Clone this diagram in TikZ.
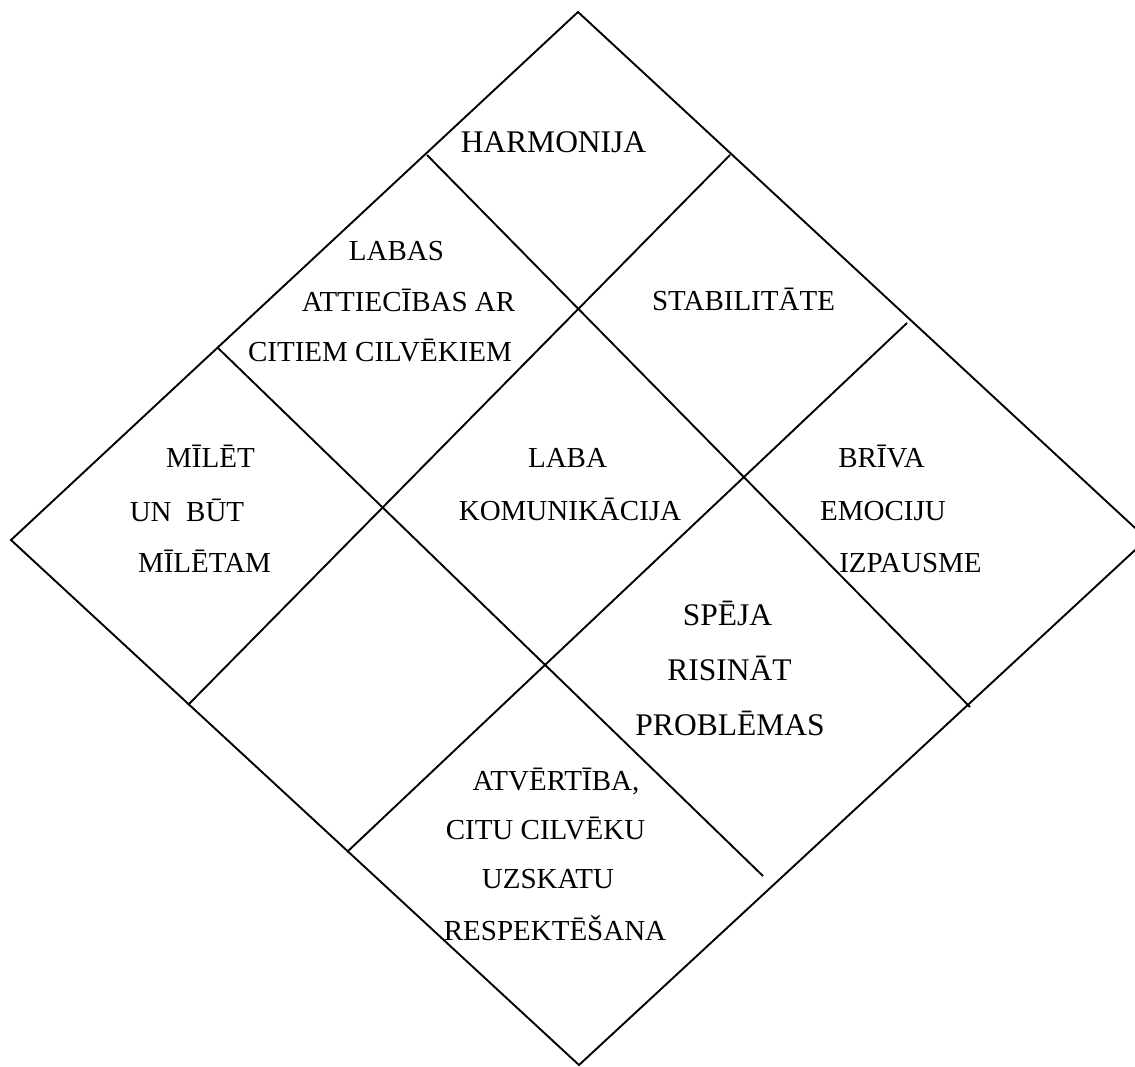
\documentclass[tikz,border=0pt]{standalone}
\usepackage{fontspec}
\setmainfont{Liberation Serif}
\begin{document}
\begin{tikzpicture}[x=1pt,y=-1pt,
  edge/.style={line width=1.9pt, line join=miter},
  lbl/.style={font=\fontsize{29}{35}\selectfont, anchor=base, inner sep=0pt},
  lblbig/.style={lbl, font=\fontsize{31.5}{38}\selectfont}]
\useasboundingbox (0,0) rectangle (1135,1066);
\clip (0,0) rectangle (1135,1066);
% outer square standing on its corner
\coordinate (top) at (578,12);
\coordinate (left) at (11,540);
\coordinate (bottom) at (579,1065);
\coordinate (right) at (1147,539);
\draw[edge] (top) -- (right) -- (bottom) -- (left) -- cycle;
% inner dividing lines
\coordinate (a1) at (427,155);  \coordinate (a2) at (970,707);
\coordinate (b1) at (730,155);  \coordinate (b2) at (188,705);
\coordinate (c1) at (218,348);  \coordinate (c2) at (763,876);
\coordinate (d1) at (907,323);  \coordinate (d2) at (347,852);
\draw[edge] (a1) -- (a2);
\draw[edge] (b1) -- (b2);
\draw[edge] (c1) -- (c2);
\draw[edge] (d1) -- (d2);
% cell texts
\node[lblbig] (harm) at (553.5,152) {HARMONIJA};
\node[lbl] (lab1) at (396.5,260) {LABAS};
\node[lbl] (lab2) at (408.5,311) {ATTIECĪBAS AR};
\node[lbl] (lab3) at (380,361) {CITIEM CILVĒKIEM};
\node[lbl] (stab) at (743.5,310) {STABILITĀTE};
\node[lbl] (mil1) at (210.5,467) {MĪLĒT};
\node[lbl] (mil2) at (187,521) {UN~~BŪT};
\node[lbl] (mil3) at (204.5,572) {MĪLĒTAM};
\node[lbl] (kom1) at (567.5,467) {LABA};
\node[lbl] (kom2) at (570,520) {KOMUNIKĀCIJA};
\node[lbl] (emo1) at (881.5,467) {BRĪVA};
\node[lbl] (emo2) at (883,520) {EMOCIJU};
\node[lbl] (emo3) at (910.5,572) {IZPAUSME};
\node[lblbig] (spe1) at (727.5,625) {SPĒJA};
\node[lblbig] (spe2) at (729.5,680) {RISINĀT};
\node[lblbig] (spe3) at (730,735) {PROBLĒMAS};
\node[lbl] (atv1) at (556,790) {ATVĒRTĪBA,};
\node[lbl] (atv2) at (545.5,839) {CITU CILVĒKU};
\node[lbl] (atv3) at (548,888) {UZSKATU};
\node[lbl] (atv4) at (555,940) {RESPEKTĒŠANA};
\end{tikzpicture}
\end{document}
